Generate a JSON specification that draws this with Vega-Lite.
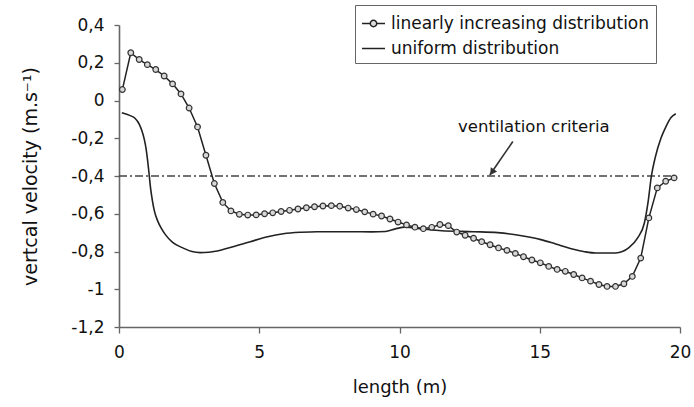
{
  "$schema": "https://vega.github.io/schema/vega-lite/v6.json",
  "autosize": "none",
  "width": 561,
  "height": 302,
  "padding": {"left": 119, "top": 25, "right": 14, "bottom": 80},
  "background": "white",
  "config": {
    "view": {"stroke": null},
    "font": "DejaVu Sans",
    "axis": {
      "grid": false,
      "domainColor": "#666",
      "domainWidth": 1.6,
      "tickColor": "#666",
      "tickWidth": 1.3,
      "labelFont": "DejaVu Sans",
      "labelFontSize": 17,
      "labelColor": "#111",
      "titleFont": "DejaVu Sans",
      "titleFontWeight": "normal",
      "titleColor": "#111"
    }
  },
  "datasets": {
    "curves": [
      {"series": "linearly increasing distribution", "x": 0.12, "y": 0.058},
      {"series": "linearly increasing distribution", "x": 0.42, "y": 0.253},
      {"series": "linearly increasing distribution", "x": 0.72, "y": 0.217},
      {"series": "linearly increasing distribution", "x": 1.01, "y": 0.19},
      {"series": "linearly increasing distribution", "x": 1.31, "y": 0.164},
      {"series": "linearly increasing distribution", "x": 1.61, "y": 0.13},
      {"series": "linearly increasing distribution", "x": 1.91, "y": 0.088},
      {"series": "linearly increasing distribution", "x": 2.21, "y": 0.035},
      {"series": "linearly increasing distribution", "x": 2.5, "y": -0.04},
      {"series": "linearly increasing distribution", "x": 2.8, "y": -0.14},
      {"series": "linearly increasing distribution", "x": 3.1, "y": -0.29},
      {"series": "linearly increasing distribution", "x": 3.4, "y": -0.44},
      {"series": "linearly increasing distribution", "x": 3.7, "y": -0.54},
      {"series": "linearly increasing distribution", "x": 3.99, "y": -0.585},
      {"series": "linearly increasing distribution", "x": 4.29, "y": -0.603},
      {"series": "linearly increasing distribution", "x": 4.59, "y": -0.607},
      {"series": "linearly increasing distribution", "x": 4.89, "y": -0.606},
      {"series": "linearly increasing distribution", "x": 5.19, "y": -0.6},
      {"series": "linearly increasing distribution", "x": 5.48, "y": -0.595},
      {"series": "linearly increasing distribution", "x": 5.78, "y": -0.588},
      {"series": "linearly increasing distribution", "x": 6.08, "y": -0.582},
      {"series": "linearly increasing distribution", "x": 6.38, "y": -0.575},
      {"series": "linearly increasing distribution", "x": 6.68, "y": -0.568},
      {"series": "linearly increasing distribution", "x": 6.97, "y": -0.563},
      {"series": "linearly increasing distribution", "x": 7.27, "y": -0.559},
      {"series": "linearly increasing distribution", "x": 7.57, "y": -0.557},
      {"series": "linearly increasing distribution", "x": 7.87, "y": -0.56},
      {"series": "linearly increasing distribution", "x": 8.17, "y": -0.57},
      {"series": "linearly increasing distribution", "x": 8.46, "y": -0.578},
      {"series": "linearly increasing distribution", "x": 8.76, "y": -0.59},
      {"series": "linearly increasing distribution", "x": 9.06, "y": -0.602},
      {"series": "linearly increasing distribution", "x": 9.36, "y": -0.612},
      {"series": "linearly increasing distribution", "x": 9.66, "y": -0.628},
      {"series": "linearly increasing distribution", "x": 9.95, "y": -0.644},
      {"series": "linearly increasing distribution", "x": 10.25, "y": -0.659},
      {"series": "linearly increasing distribution", "x": 10.55, "y": -0.671},
      {"series": "linearly increasing distribution", "x": 10.85, "y": -0.679},
      {"series": "linearly increasing distribution", "x": 11.15, "y": -0.672},
      {"series": "linearly increasing distribution", "x": 11.44, "y": -0.657},
      {"series": "linearly increasing distribution", "x": 11.74, "y": -0.663},
      {"series": "linearly increasing distribution", "x": 12.04, "y": -0.697},
      {"series": "linearly increasing distribution", "x": 12.34, "y": -0.714},
      {"series": "linearly increasing distribution", "x": 12.64, "y": -0.73},
      {"series": "linearly increasing distribution", "x": 12.93, "y": -0.748},
      {"series": "linearly increasing distribution", "x": 13.23, "y": -0.764},
      {"series": "linearly increasing distribution", "x": 13.53, "y": -0.781},
      {"series": "linearly increasing distribution", "x": 13.83, "y": -0.794},
      {"series": "linearly increasing distribution", "x": 14.13, "y": -0.81},
      {"series": "linearly increasing distribution", "x": 14.42, "y": -0.828},
      {"series": "linearly increasing distribution", "x": 14.72, "y": -0.845},
      {"series": "linearly increasing distribution", "x": 15.02, "y": -0.86},
      {"series": "linearly increasing distribution", "x": 15.32, "y": -0.879},
      {"series": "linearly increasing distribution", "x": 15.62, "y": -0.895},
      {"series": "linearly increasing distribution", "x": 15.91, "y": -0.905},
      {"series": "linearly increasing distribution", "x": 16.21, "y": -0.922},
      {"series": "linearly increasing distribution", "x": 16.51, "y": -0.94},
      {"series": "linearly increasing distribution", "x": 16.81, "y": -0.957},
      {"series": "linearly increasing distribution", "x": 17.11, "y": -0.975},
      {"series": "linearly increasing distribution", "x": 17.4, "y": -0.985},
      {"series": "linearly increasing distribution", "x": 17.7, "y": -0.985},
      {"series": "linearly increasing distribution", "x": 18.0, "y": -0.971},
      {"series": "linearly increasing distribution", "x": 18.3, "y": -0.932},
      {"series": "linearly increasing distribution", "x": 18.6, "y": -0.835},
      {"series": "linearly increasing distribution", "x": 18.89, "y": -0.622},
      {"series": "linearly increasing distribution", "x": 19.19, "y": -0.463},
      {"series": "linearly increasing distribution", "x": 19.49, "y": -0.428},
      {"series": "linearly increasing distribution", "x": 19.79, "y": -0.41},
      {"series": "uniform distribution", "x": 0.1, "y": -0.065},
      {"series": "uniform distribution", "x": 0.4, "y": -0.08},
      {"series": "uniform distribution", "x": 0.57, "y": -0.094},
      {"series": "uniform distribution", "x": 0.72, "y": -0.125},
      {"series": "uniform distribution", "x": 0.81, "y": -0.158},
      {"series": "uniform distribution", "x": 0.9, "y": -0.205},
      {"series": "uniform distribution", "x": 0.97, "y": -0.26},
      {"series": "uniform distribution", "x": 1.03, "y": -0.33},
      {"series": "uniform distribution", "x": 1.08, "y": -0.4},
      {"series": "uniform distribution", "x": 1.13, "y": -0.47},
      {"series": "uniform distribution", "x": 1.19, "y": -0.53},
      {"series": "uniform distribution", "x": 1.27, "y": -0.59},
      {"series": "uniform distribution", "x": 1.37, "y": -0.635},
      {"series": "uniform distribution", "x": 1.5, "y": -0.675},
      {"series": "uniform distribution", "x": 1.66, "y": -0.712},
      {"series": "uniform distribution", "x": 1.9, "y": -0.75},
      {"series": "uniform distribution", "x": 2.29, "y": -0.782},
      {"series": "uniform distribution", "x": 2.6, "y": -0.8},
      {"series": "uniform distribution", "x": 2.89, "y": -0.806},
      {"series": "uniform distribution", "x": 3.2, "y": -0.804},
      {"series": "uniform distribution", "x": 3.5, "y": -0.797},
      {"series": "uniform distribution", "x": 4.1, "y": -0.773},
      {"series": "uniform distribution", "x": 4.68, "y": -0.748},
      {"series": "uniform distribution", "x": 5.3, "y": -0.722},
      {"series": "uniform distribution", "x": 5.86, "y": -0.706},
      {"series": "uniform distribution", "x": 6.5, "y": -0.698},
      {"series": "uniform distribution", "x": 7.07, "y": -0.695},
      {"series": "uniform distribution", "x": 8.25, "y": -0.695},
      {"series": "uniform distribution", "x": 9.0, "y": -0.696},
      {"series": "uniform distribution", "x": 9.5, "y": -0.694},
      {"series": "uniform distribution", "x": 9.85, "y": -0.68},
      {"series": "uniform distribution", "x": 10.2, "y": -0.671},
      {"series": "uniform distribution", "x": 10.8, "y": -0.68},
      {"series": "uniform distribution", "x": 11.5, "y": -0.69},
      {"series": "uniform distribution", "x": 12.64, "y": -0.695},
      {"series": "uniform distribution", "x": 13.5, "y": -0.7},
      {"series": "uniform distribution", "x": 14.3, "y": -0.715},
      {"series": "uniform distribution", "x": 15.04, "y": -0.737},
      {"series": "uniform distribution", "x": 15.57, "y": -0.76},
      {"series": "uniform distribution", "x": 16.2, "y": -0.788},
      {"series": "uniform distribution", "x": 16.6, "y": -0.801},
      {"series": "uniform distribution", "x": 17.0, "y": -0.808},
      {"series": "uniform distribution", "x": 17.71, "y": -0.808},
      {"series": "uniform distribution", "x": 18.18, "y": -0.78},
      {"series": "uniform distribution", "x": 18.49, "y": -0.728},
      {"series": "uniform distribution", "x": 18.73, "y": -0.649},
      {"series": "uniform distribution", "x": 18.86, "y": -0.54},
      {"series": "uniform distribution", "x": 18.98, "y": -0.4},
      {"series": "uniform distribution", "x": 19.12, "y": -0.3},
      {"series": "uniform distribution", "x": 19.32, "y": -0.2},
      {"series": "uniform distribution", "x": 19.5, "y": -0.138},
      {"series": "uniform distribution", "x": 19.68, "y": -0.09},
      {"series": "uniform distribution", "x": 19.85, "y": -0.07}
    ],
    "criteria": [{"x": 0, "x2": 19.7, "y": -0.4}],
    "arrow": [{"x": 14.04, "y": -0.2175, "x2": 13.22, "y2": -0.395}],
    "arrowhead": [{"x": 13.3, "y": -0.38}],
    "label": [{"x": 14.79, "y": -0.14, "text": "ventilation criteria"}]
  },
  "layer": [
    {
      "data": {"name": "criteria"},
      "mark": {"type": "rule", "color": "#444", "strokeWidth": 1.3, "strokeDash": [8, 3, 2, 3]},
      "encoding": {
        "x": {"field": "x", "type": "quantitative"},
        "x2": {"field": "x2"},
        "y": {"field": "y", "type": "quantitative"}
      }
    },
    {
      "data": {"name": "curves"},
      "transform": [{"filter": "datum.series === 'uniform distribution'"}],
      "mark": {"type": "line", "interpolate": "monotone", "strokeWidth": 1.6},
      "encoding": {
        "x": {"field": "x", "type": "quantitative"},
        "y": {"field": "y", "type": "quantitative"},
        "stroke": {"field": "series", "type": "nominal"}
      }
    },
    {
      "data": {"name": "curves"},
      "transform": [{"filter": "datum.series === 'linearly increasing distribution'"}],
      "mark": {"type": "line", "strokeWidth": 1.5},
      "encoding": {
        "x": {"field": "x", "type": "quantitative"},
        "y": {"field": "y", "type": "quantitative"},
        "stroke": {"field": "series", "type": "nominal"}
      }
    },
    {
      "data": {"name": "curves"},
      "transform": [{"filter": "datum.series === 'linearly increasing distribution'"}],
      "mark": {"type": "point", "shape": "circle", "size": 32, "filled": true, "fill": "#d8d8d8", "stroke": "#333", "strokeWidth": 1.2, "opacity": 1},
      "encoding": {
        "x": {"field": "x", "type": "quantitative"},
        "y": {"field": "y", "type": "quantitative"}
      }
    },
    {
      "data": {"name": "arrow"},
      "mark": {"type": "rule", "color": "#333", "strokeWidth": 1.6},
      "encoding": {
        "x": {"field": "x", "type": "quantitative"},
        "y": {"field": "y", "type": "quantitative"},
        "x2": {"field": "x2"},
        "y2": {"field": "y2"}
      }
    },
    {
      "data": {"name": "arrowhead"},
      "mark": {"type": "point", "shape": "triangle-up", "filled": true, "color": "#333", "size": 60, "angle": 214, "opacity": 1},
      "encoding": {
        "x": {"field": "x", "type": "quantitative"},
        "y": {"field": "y", "type": "quantitative"}
      }
    },
    {
      "data": {"name": "label"},
      "mark": {"type": "text", "font": "DejaVu Sans", "fontSize": 16.5, "color": "#111", "align": "center", "baseline": "middle"},
      "encoding": {
        "x": {"field": "x", "type": "quantitative"},
        "y": {"field": "y", "type": "quantitative"},
        "text": {"field": "text"}
      }
    }
  ],
  "encoding": {
    "x": {
      "type": "quantitative",
      "scale": {"domain": [0, 20], "nice": false, "zero": false},
      "axis": {
        "title": "length (m)",
        "values": [0, 5, 10, 15, 20],
        "tickSize": 6,
        "labelPadding": 11,
        "titleFontSize": 18,
        "titlePadding": 18,
        "labelFlush": false
      }
    },
    "y": {
      "type": "quantitative",
      "scale": {"domain": [-1.2, 0.4], "nice": false, "zero": false},
      "axis": {
        "title": "vertcal velocity (m.s⁻¹)",
        "values": [-1.2, -1, -0.8, -0.6, -0.4, -0.2, 0, 0.2, 0.4],
        "labelExpr": "replace(replace(format(datum.value, '.1~f'), '.', ','), '\u2212', '-')",
        "tickSize": 5,
        "labelPadding": 10,
        "titleFontSize": 19,
        "titlePadding": 30
      }
    },
    "stroke": {
      "type": "nominal",
      "scale": {"domain": ["linearly increasing distribution", "uniform distribution"], "range": ["#222", "#222"]},
      "legend": {
        "title": null,
        "orient": "none",
        "legendX": 236,
        "legendY": -20,
        "padding": 6,
        "strokeColor": "#666",
        "fillColor": "white",
        "labelFont": "DejaVu Sans",
        "labelFontSize": 17,
        "labelColor": "#111",
        "labelLimit": 0,
        "symbolSize": 529,
        "symbolStrokeWidth": 1.5,
        "rowPadding": 4,
        "labelOffset": 5,
        "encode": {
          "symbols": {
            "update": {
              "shape": [
                {"test": "datum.value === 'linearly increasing distribution'", "value": "M-1,0H-0.28M0.28,0H1M-0.28,0A0.28,0.28,0,1,1,0.28,0A0.28,0.28,0,1,1,-0.28,0Z"},
                {"value": "M-1,0H1"}
              ],
              "fill": {"value": "#ddd"},
              "stroke": {"value": "#222"}
            }
          }
        }
      }
    }
  }
}
